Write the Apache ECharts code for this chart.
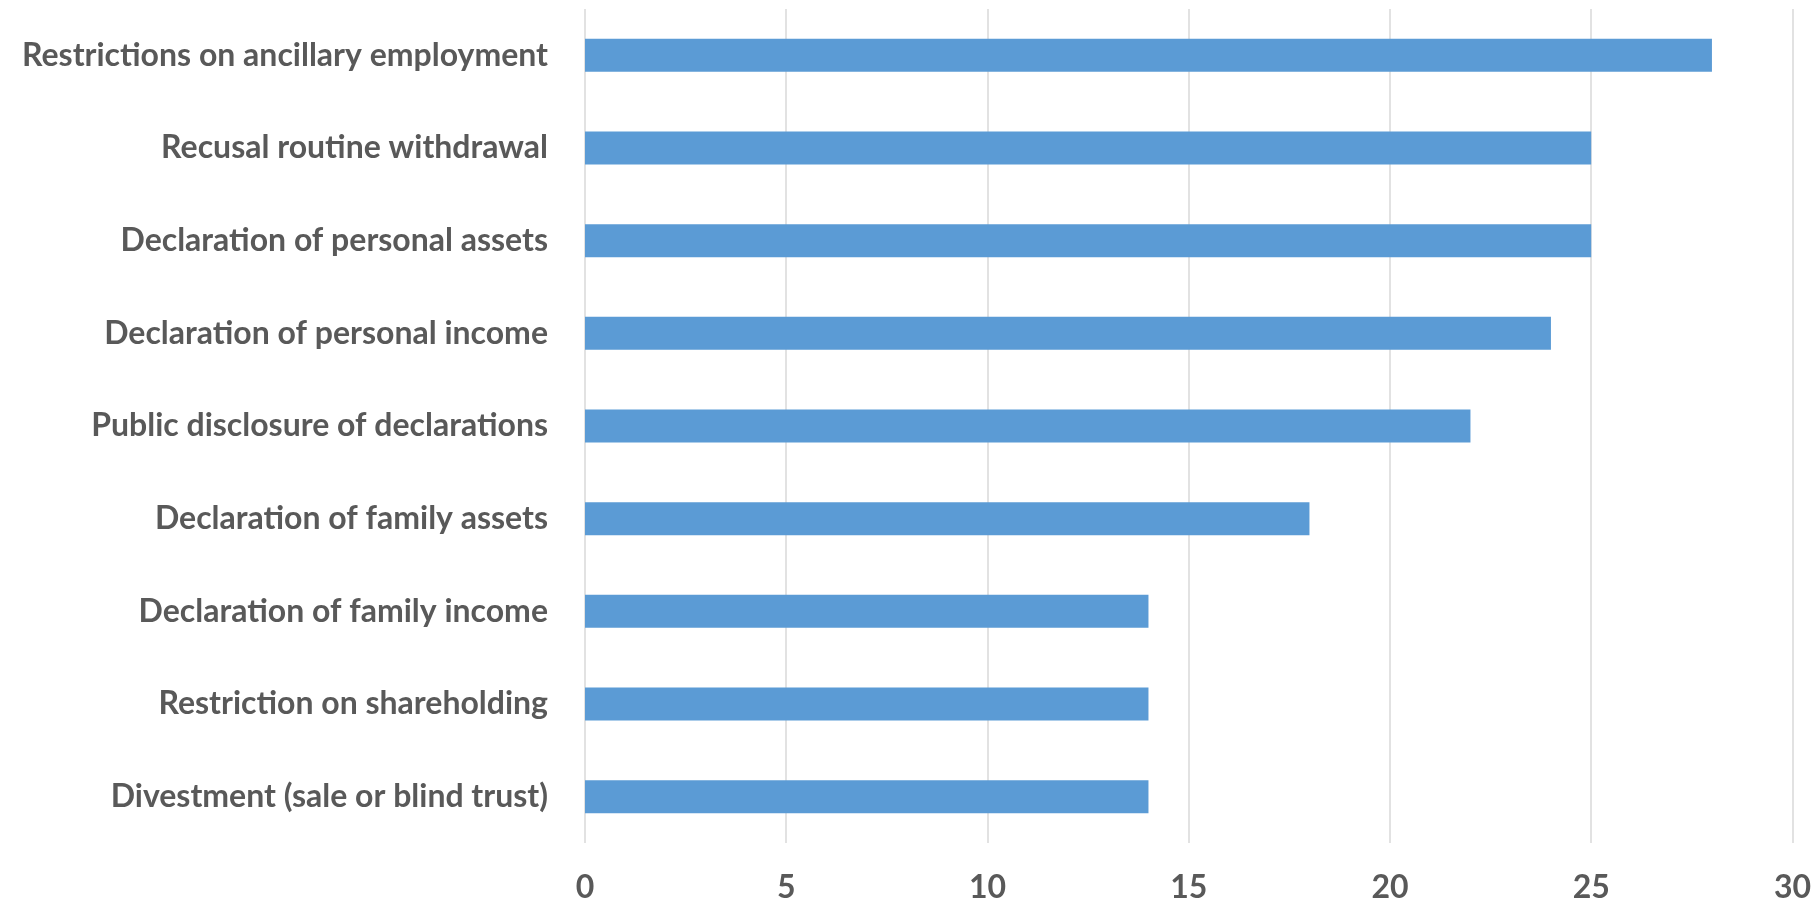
<!DOCTYPE html>
<html>
<head>
<meta charset="utf-8">
<script src="https://cdn.jsdelivr.net/npm/echarts@6/dist/echarts.min.js"></script>
<style>
  html, body { margin: 0; padding: 0; background: #fff; }
  #chart { width: 1814px; height: 904px; }
</style>
</head>
<body>
<div id="chart"></div>
<script>
// categories listed top to bottom as in the picture
var categories = [
  "Restrictions on ancillary employment",
  "Recusal routine withdrawal",
  "Declaration of personal assets",
  "Declaration of personal income",
  "Public disclosure of declarations",
  "Declaration of family assets",
  "Declaration of family income",
  "Restriction on shareholding",
  "Divestment (sale or blind trust)"
];
var counts = [28, 25, 25, 24, 22, 18, 14, 14, 14];
var axisMin = 0;
var axisMax = 30;
var axisStep = 5;

var chart = echarts.init(document.getElementById("chart"));

var option = {
  animation: false,
  grid: {
    left: 585,
    right: 19,
    top: 9,
    bottom: 61
  },
  xAxis: {
    type: "value",
    min: axisMin,
    max: axisMax,
    interval: axisStep,
    axisLine: { show: false },
    axisTick: { show: false },
    splitLine: { lineStyle: { color: "#d9d9d9", width: 1.5 } },
    axisLabel: {
      color: "#595959",
      fontFamily: "Lato",
      fontWeight: "bold",
      fontSize: 32,
      margin: 29
    }
  },
  yAxis: {
    type: "category",
    inverse: true,
    data: categories,
    axisLine: { show: false },
    axisTick: { show: false },
    axisLabel: {
      color: "#595959",
      fontFamily: "Lato",
      fontWeight: "bold",
      fontSize: 32,
      margin: 37
    }
  },
  series: [
    {
      type: "bar",
      data: counts,
      barWidth: 33,
      itemStyle: { color: "#5b9bd5" }
    }
  ]
};

chart.setOption(option);
</script>
</body>
</html>
